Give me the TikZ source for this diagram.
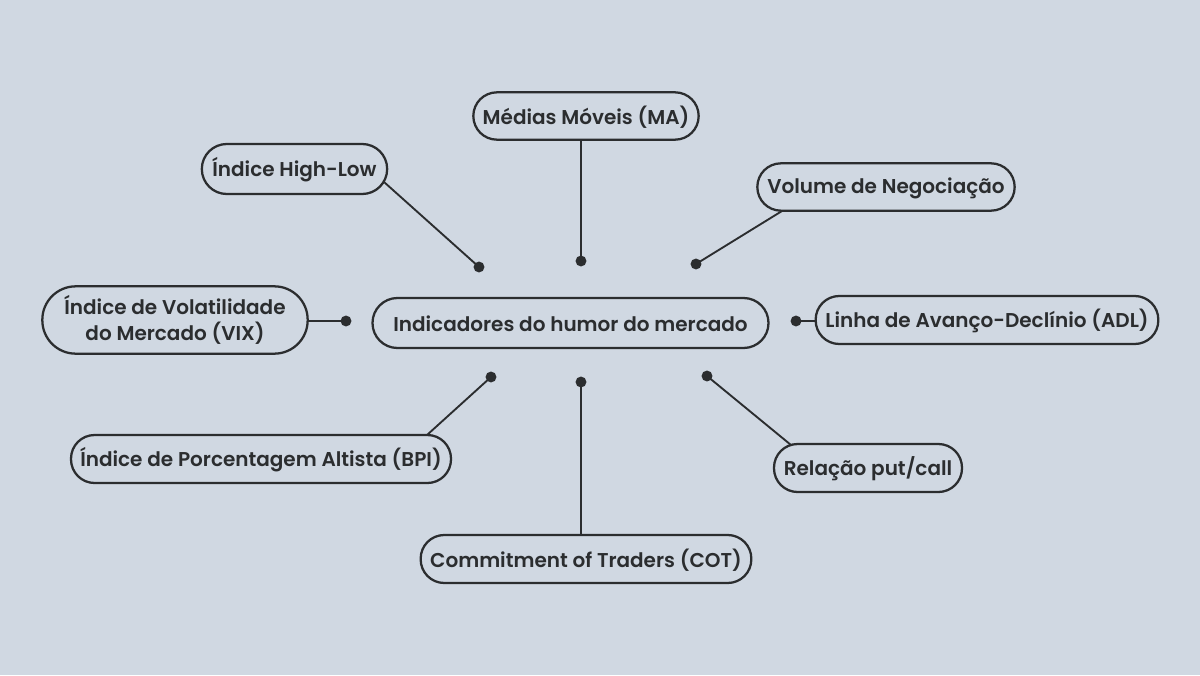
\documentclass[tikz,border=0pt]{standalone}
\usepackage{fontspec}
\setmainfont{Poppins SemiBold}
\definecolor{bgc}{HTML}{D0D8E2}
\definecolor{ink}{HTML}{2B2D2F}
\newcommand{\lowtxt}[1]{\raisebox{-0.8pt}[\height][\depth]{#1}}
\tikzset{
 px/.style={x=0.75pt,y=-0.75pt},
 pill/.style={draw=ink,line width=1.7pt,rounded corners=17.7pt,inner sep=0pt,text=ink,font=\fontsize{15pt}{19.3pt}\selectfont,align=center,anchor=center},
 conn/.style={draw=ink,line width=1.4pt},
 tipdot/.style={circle,fill=ink,inner sep=0pt,minimum size=8.2pt}
}
\begin{document}
\begin{tikzpicture}[px]
\useasboundingbox[fill=bgc] (0,0) rectangle (1200,675);
\node[pill,rounded corners=18.7pt,minimum width=297pt,minimum height=37.5pt] (c) at (570.5,323) {\lowtxt{Indicadores do humor do mercado}};
\node[pill,minimum width=169pt,minimum height=35.5pt] (ma) at (586,116) {\lowtxt{Médias Móveis (MA)}};
\node[pill,rounded corners=18.7pt,minimum width=139pt,minimum height=37.5pt] (hl) at (294.5,169) {\lowtxt{Índice High-Low}};
\node[pill,minimum width=193pt,minimum height=35.5pt] (vol) at (886,187) {\lowtxt{Volume de Negociação}};
\node[pill,rounded corners=25pt,minimum width=199pt,minimum height=50.5pt] (vix) at (175,320) {Índice de Volatilidade\\do Mercado (VIX)};
\node[pill,minimum width=257pt,minimum height=36pt] (adl) at (987,320) {\lowtxt{Linha de Avanço-Declínio (ADL)}};
\node[pill,minimum width=285pt,minimum height=36pt] (bpi) at (261,459) {\lowtxt{Índice de Porcentagem Altista (BPI)}};
\node[pill,minimum width=141pt,minimum height=36pt] (pc) at (868,468) {\lowtxt{Relação put/call}};
\node[pill,minimum width=248pt,minimum height=36pt] (cot) at (586,559) {\lowtxt{Commitment of Traders (COT)}};
\node[tipdot] (d1) at (479,267) {};
\node[tipdot] (d2) at (581,261) {};
\node[tipdot] (d3) at (696,264) {};
\node[tipdot] (d4) at (346,321) {};
\node[tipdot] (d5) at (796,321) {};
\node[tipdot] (d6) at (491,377) {};
\node[tipdot] (d7) at (581,382) {};
\node[tipdot] (d8) at (707,376) {};
\coordinate (a1) at (384,182);
\coordinate (a2) at (581,140);
\coordinate (a3) at (782,211);
\coordinate (a4) at (308,321);
\coordinate (a5) at (816,321);
\coordinate (a6) at (427,435);
\coordinate (a7) at (581,535);
\coordinate (a8) at (791,445);
\foreach \i in {1,...,8}{\draw[conn] (a\i) -- (d\i.center);}
\end{tikzpicture}
\end{document}
